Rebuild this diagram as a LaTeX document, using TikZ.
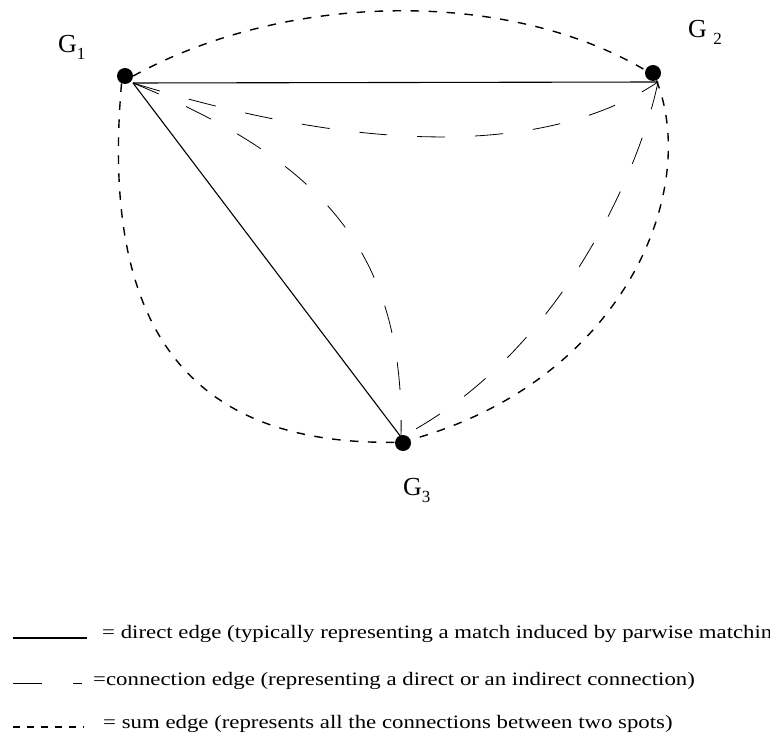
\documentclass[tikz,border=0pt]{standalone}
\usepackage{fontspec}
\setmainfont{Liberation Serif}
\usetikzlibrary{positioning,calc}
\tikzset{
    spot/.style={circle,fill=black,inner sep=0pt,minimum size=16},
    lbl/.style={inner sep=0pt,anchor=base west,font=\fontsize{26}{30}\selectfont},
    legtext/.style={inner sep=0pt,anchor=base west,xscale=1.2,font=\fontsize{19}{22}\selectfont},
    direct/.style={line width=1.1},
    conn/.style={line width=0.8,dash pattern=on 28 off 30},
    sumedge/.style={line width=1.4,dash pattern=on 8.5 off 9.5},
}
\newcommand{\subidx}[1]{\raisebox{-7pt}{\fontsize{17}{17}\selectfont #1}}
\begin{document}
\begin{tikzpicture}[x=1pt,y=-1pt]
\useasboundingbox (0,0) rectangle (770,735);
\node[spot] (g1) at (125,76) {};
\node[spot] (g2) at (653,73) {};
\node[spot] (g3) at (403,443) {};
\coordinate (p1) at (133,83);
\coordinate (p2) at (658,82);
\coordinate (p3) at (401,437);

\node[lbl] (l1) at (58,53) {G\subidx{1}};
\node[lbl] (l2) at (688,38) {G \subidx{2}};
\node[lbl] (l3) at (403,495) {G\subidx{3}};

\draw[direct] (p1) -- (p2);
\draw[direct] (p1) -- (p3);

\draw[conn] (p1) .. controls (350,150) and (540,160) .. (p2);
\draw[conn] (p1) .. controls (320,160) and (405,250) .. (p3);
\draw[conn] (p2) .. controls (640,170) and (560,355) .. (p3);

\draw[sumedge] (g1.east) .. controls (290,-10) and (510,-10) .. (g2.160);
\draw[sumedge] (g1.-115) .. controls (100,330) and (190,445) .. (g3.175);
\draw[sumedge] (g2.-65) .. controls (700,190) and (625,380) .. (g3.23);

\coordinate (a1) at (13,638);  \coordinate (b1) at (87,638);
\coordinate (a2) at (13,683);  \coordinate (b2) at (82,683);
\coordinate (a3) at (13,727);  \coordinate (b3) at (84,727);
\draw[direct] (a1) -- (b1);
\draw[conn,dash pattern=on 29 off 31] (a2) -- (b2);
\draw[sumedge,line width=1.2,dash pattern=on 6.5 off 7.5] (a3) -- (b3);
\node[legtext] (t1) at (102,638) {= direct edge (typically representing a match induced by parwise matching};
\node[legtext] (t2) at (93,685) {=connection edge (representing a direct or an indirect connection)};
\node[legtext] (t3) at (103,728) {= sum edge (represents all the connections between two spots)};
\end{tikzpicture}
\end{document}
